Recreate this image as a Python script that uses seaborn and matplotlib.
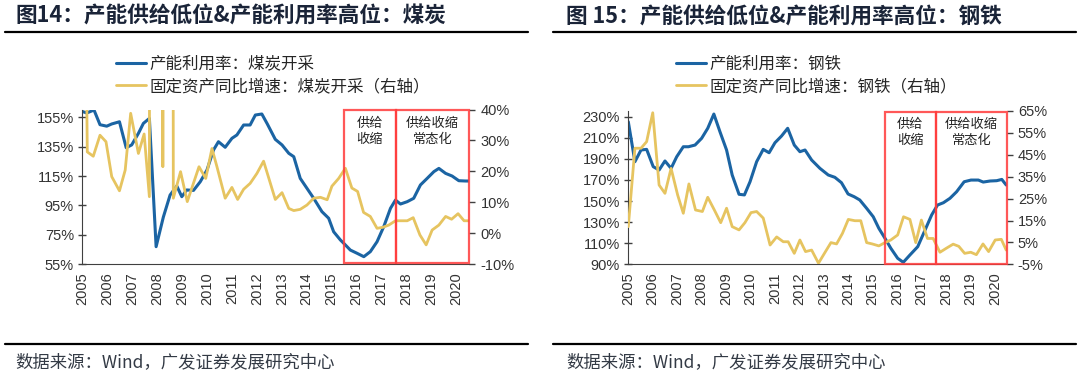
import numpy as np
import matplotlib
matplotlib.use("Agg")
import matplotlib.pyplot as plt
import seaborn as sns
from matplotlib.lines import Line2D
from matplotlib.patches import Rectangle
from matplotlib.transforms import blended_transform_factory

# ---------------- data ----------------
coal_util_x = [2005.00, 2005.18, 2005.47, 2005.71, 2005.98, 2006.18, 2006.49, 2006.76, 2006.98, 2007.25,
               2007.45, 2007.69, 2007.96, 2008.25, 2008.52, 2008.79, 2008.99, 2009.19, 2009.46, 2009.73,
               2010.00, 2010.26, 2010.46, 2010.73, 2011.00, 2011.20, 2011.47, 2011.73, 2011.94, 2012.20,
               2012.42, 2012.74, 2013.01, 2013.28, 2013.48, 2013.74, 2014.01, 2014.28, 2014.61, 2014.88,
               2015.08, 2015.35, 2015.55, 2015.75, 2016.02, 2016.29, 2016.55, 2016.82, 2017.09, 2017.36,
               2017.56, 2017.76, 2018.03, 2018.29, 2018.56, 2018.83, 2019.10, 2019.30, 2019.57, 2019.83,
               2020.10, 2020.37, 2020.50]
coal_util = [159, 158, 160, 150, 149, 150.5, 152, 134.3, 136.2, 144.1,
             150.9, 154.3, 66.8, 87, 102, 108.2, 100.9, 105.5, 105.2, 111.1,
             119.1, 132.7, 138.4, 134.6, 140.7, 143, 149.8, 149.8, 156.6, 157.3,
             150.5, 140, 136.2, 130.5, 128.2, 113.4, 106.6, 99.8, 90.7, 86.2,
             77, 71.4, 68, 64.5, 62.3, 60, 63.4, 70.2, 80.5, 93,
             98.6, 95.9, 97.5, 99.8, 108.9, 113.4, 118, 120.2, 116.8, 115,
             111.8, 111.6, 111.6]

coal_fai_x = [2005.12, 2005.20, 2005.44, 2005.71, 2005.95, 2006.18, 2006.49, 2006.72, 2006.94, 2007.25,
              2007.48, 2007.69, 2007.72, 2008.20, 2008.23, 2008.26, 2008.62, 2008.65, 2008.94, 2009.21,
              2009.68, 2009.95, 2010.20, 2010.40, 2010.73, 2011.00, 2011.23, 2011.47, 2011.73, 2012.00,
              2012.27, 2012.46, 2012.74, 2013.01, 2013.28, 2013.48, 2013.74, 2014.01, 2014.28, 2014.55,
              2014.82, 2015.01, 2015.28, 2015.55, 2015.81, 2016.04, 2016.28, 2016.55, 2016.82, 2017.06,
              2017.29, 2017.56, 2017.83, 2018.03, 2018.27, 2018.54, 2018.79, 2019.03, 2019.30, 2019.57,
              2019.81, 2020.07, 2020.31, 2020.50]
coal_fai = [90, 26.3, 24.9, 31.7, 29.6, 18.3, 13.7, 20.4, 38.8, 25.8,
            32.1, 11.8, 250, 250, 21.5, 250, 250, 11.3, 19.9, 10.2,
            21.5, 17.7, 27.4, 21.5, 11.3, 14.8, 10.9, 14.2, 16.1, 19.3,
            23.3, 18.3, 10.9, 13.1, 8.0, 7.3, 7.7, 9.1, 11.3, 11.6,
            10.8, 15.2, 17.7, 21.0, 14.6, 13.5, 6.7, 5.4, 1.55, 1.9,
            2.6, 4.0, 4.0, 4.0, 5.0, -0.6, -3.8, 1.0, 2.6, 5.4,
            4.5, 6.3, 4.0, 4.0]

steel_util_x = [2005.00, 2005.27, 2005.52, 2005.75, 2006.02, 2006.26, 2006.50, 2006.75, 2006.98, 2007.25,
                2007.46, 2007.73, 2008.00, 2008.25, 2008.50, 2008.75, 2009.02, 2009.25, 2009.53, 2009.75,
                2009.98, 2010.25, 2010.52, 2010.76, 2011.00, 2011.27, 2011.52, 2011.79, 2012.02, 2012.23,
                2012.50, 2012.84, 2013.18, 2013.45, 2013.72, 2013.99, 2014.24, 2014.47, 2014.75, 2015.02,
                2015.25, 2015.50, 2015.74, 2016.02, 2016.25, 2016.52, 2016.84, 2017.14, 2017.41, 2017.65,
                2017.89, 2018.16, 2018.43, 2018.74, 2019.02, 2019.32, 2019.52, 2019.80, 2020.07, 2020.28,
                2020.46]
steel_util = [225.2, 187.3, 198.4, 199, 182.6, 179.4, 188, 181, 192, 201.5,
              201.5, 203.1, 209.5, 219, 232.5, 215.7, 198.4, 174.7, 156.4, 155.8,
              168.3, 187.3, 199, 195.8, 205.3, 211.7, 219, 203.1, 196.8, 198.4,
              188.9, 181, 174.7, 172.5, 167.4, 156.7, 154.1, 151, 143.1, 135.1,
              124.1, 114.7, 105.2, 95.7, 91.9, 98.8, 106.7, 122.5, 136.8, 146.2,
              148.4, 152.6, 158.8, 168.3, 169.9, 169.9, 168, 169, 169.3, 170.5,
              165.2]

steel_fai_x = [2005.00, 2005.27, 2005.52, 2005.75, 2006.00, 2006.26, 2006.50, 2006.75, 2007.02, 2007.25,
               2007.48, 2007.75, 2008.03, 2008.25, 2008.52, 2008.78, 2009.02, 2009.25, 2009.53, 2009.77,
               2010.02, 2010.25, 2010.52, 2010.80, 2011.07, 2011.34, 2011.54, 2011.79, 2012.02, 2012.25,
               2012.50, 2012.78, 2013.05, 2013.29, 2013.52, 2013.76, 2014.00, 2014.27, 2014.51, 2014.75,
               2014.98, 2015.25, 2015.50, 2015.74, 2016.02, 2016.26, 2016.52, 2016.76, 2016.99, 2017.24,
               2017.47, 2017.75, 2018.02, 2018.29, 2018.52, 2018.76, 2019.01, 2019.24, 2019.51, 2019.74,
               2020.01, 2020.26, 2020.46]
steel_fai = [12.2, 48, 48, 51, 64.2, 31.2, 27.4, 38.8, 26.6, 18.3,
             31.7, 19.8, 19.1, 25.6, 19.8, 14.0, 20.6, 12.2, 10.7, 14.0,
             18.6, 19.1, 16.1, 3.8, 7.5, 5.3, 5.3, 0.0, 6.1, 0.8,
             1.5, -4.5, 0.5, 4.9, 4.3, 9.1, 15.5, 14.9, 14.9, 4.9,
             4.3, 3.4, 4.9, 6.1, 8.4, 16.7, 15.5, 4.9, 15.2, 6.8,
             6.8, 0.5, 2.4, 4.2, 3.2, 0.0, 0.5, -0.6, 4.3, 0.8,
             6.1, 6.4, 1.5]

years = list(range(2005, 2021))
phase_bounds = [2015.5, 2017.57, 2020.5]
phase_labels = ["供给\n收缩", "供给收缩\n常态化"]

BLUE = "#1B64A3"
GOLD = "#E6C460"
RED = "#FF3B3B"
CJK = ["Noto Sans CJK SC", "DejaVu Sans"]
LAT = ["Liberation Sans", "DejaVu Sans"]

sns.set_style("white")
plt.rcParams["font.family"] = CJK
plt.rcParams["axes.unicode_minus"] = False

fig = plt.figure(figsize=(10.8, 3.79), dpi=100)


def px(x, y):
    """pixel coords (top-left origin) -> figure fraction"""
    return x / 1080, 1 - y / 379


def draw_panel(rect, ux, uy, fx, fy, xmax, lylim, lticks, rylim, rticks,
               lab1, lab2, legend_x, title, title_x, line_x):
    ax = fig.add_axes(rect)
    ax2 = ax.twinx()

    sns.lineplot(x=ux, y=uy, ax=ax, color=BLUE, linewidth=2.2, errorbar=None, sort=False)
    sns.lineplot(x=fx, y=fy, ax=ax2, color=GOLD, linewidth=2.0, errorbar=None, sort=False)

    ax.set_xlim(2005, xmax)
    ax.set_ylim(*lylim)
    ax2.set_ylim(*rylim)
    ax.set_xticks(years)
    ax.set_xticklabels([str(y) for y in years], rotation=90, family=LAT, fontsize=10.5, color="#333333")
    ax.set_yticks(lticks)
    ax.set_yticklabels([f"{t}%" for t in lticks], family=LAT, fontsize=10.5, color="#333333")
    ax2.set_yticks(rticks)
    ax2.set_yticklabels([f"{t}%" for t in rticks], family=LAT, fontsize=10.5, color="#333333")
    ax.set_xlabel("")
    ax.set_ylabel("")
    ax2.set_ylabel("")

    for a in (ax, ax2):
        for s in ("top", "right"):
            a.spines[s].set_visible(False)
    ax2.spines["left"].set_visible(False)
    ax2.spines["bottom"].set_visible(False)
    ax.spines["left"].set_color("#404040")
    ax.spines["bottom"].set_color("#404040")
    ax.tick_params(axis="both", direction="inout", length=6, width=1, color="#404040", pad=3)
    ax2.tick_params(axis="y", direction="out", length=4, width=1, color="#404040", pad=4)

    # policy-phase boxes
    trans = blended_transform_factory(ax2.transData, ax2.transAxes)
    for i, lab in enumerate(phase_labels):
        x0, x1 = phase_bounds[i], phase_bounds[i + 1]
        ax2.add_patch(Rectangle((x0, 0.005), x1 - x0, 0.99, transform=trans, fill=False,
                                ec=RED, lw=1.6, alpha=0.85, clip_on=False, zorder=5))
        ax2.text((x0 + x1) / 2, 0.86, lab, transform=trans, ha="center", va="center",
                 fontsize=9.5, linespacing=1.3, color="#222222", family=CJK)

    h1 = Line2D([], [], color=BLUE, lw=2.2)
    h2 = Line2D([], [], color=GOLD, lw=2.0)
    fig.legend([h1, h2], [lab1, lab2], loc="center left",
               bbox_to_anchor=px(legend_x, 75.3), frameon=False,
               handlelength=1.8, handletextpad=0.25, borderpad=0, borderaxespad=0,
               labelspacing=0.35, prop={"family": CJK, "size": 11.9})

    tx, ty = px(title_x, 16)
    fig.text(tx, ty, title, ha="left", va="center", fontsize=15.6, fontweight="bold",
             color="#1A2438", family=CJK)
    fig.add_artist(Line2D([line_x[0] / 1080, line_x[1] / 1080], [1 - 32 / 379] * 2,
                          color="black", lw=1.6))
    fig.add_artist(Line2D([line_x[0] / 1080, line_x[1] / 1080], [1 - 344 / 379] * 2,
                          color="black", lw=1.6))
    fx0, fy0 = px(title_x, 362)
    fig.text(fx0, fy0, "数据来源：Wind，广发证券发展研究中心", ha="left", va="center",
             fontsize=12.5, color="#333A45", family=CJK)
    return ax, ax2


# left: coal
draw_panel([82.3 / 1080, 1 - 264 / 379, (469.3 - 82.3) / 1080, (264 - 109.6) / 379],
           coal_util_x, coal_util, coal_fai_x, coal_fai, 2020.52,
           (55, 160.3), list(range(55, 156, 20)), (-10, 40), list(range(-10, 41, 10)),
           "产能利用率：煤炭开采", "固定资产同比增速：煤炭开采（右轴）", 116,
           "图14：产能供给低位&产能利用率高位：煤炭", 15, (5, 528))

# right: steel
draw_panel([628.3 / 1080, 1 - 264.3 / 379, (1006.7 - 628.3) / 1080, (264.3 - 111) / 379],
           steel_util_x, steel_util, steel_fai_x, steel_fai, 2020.48,
           (90, 235.4), list(range(90, 231, 20)), (-5, 65), list(range(-5, 66, 10)),
           "产能利用率：钢铁", "固定资产同比增速：钢铁（右轴）", 676,
           "图 15：产能供给低位&产能利用率高位：钢铁", 566, (553, 1076))

fig.savefig("out.png", dpi=100)
